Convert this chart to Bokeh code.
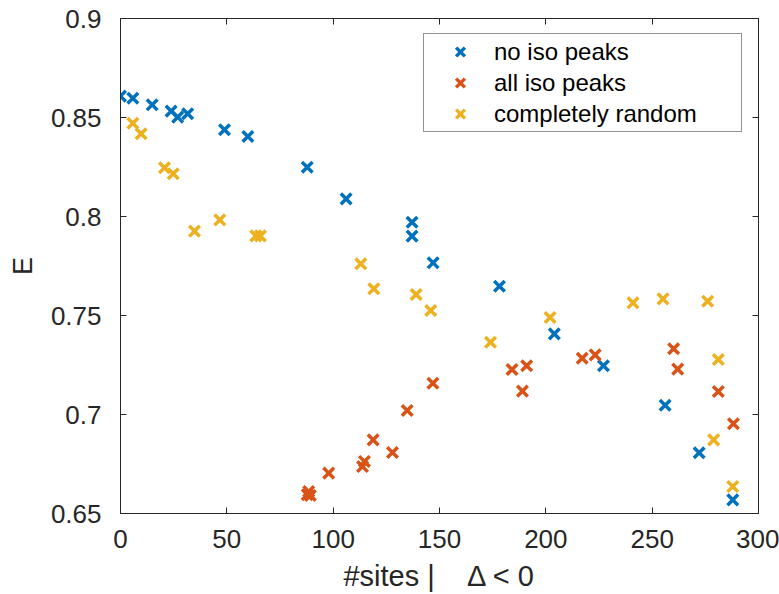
from bokeh.plotting import figure
from bokeh.models import Range1d, LinearAxis, FixedTicker, Legend, LegendItem
from bokeh.embed import file_html
from bokeh.resources import INLINE

blue_x = [0, 5.8, 14.9, 23.8, 26.9, 31.6, 48.9, 59.9, 87.8, 106.1, 137.1, 137.1, 147.0, 178.2, 204.0, 227.1, 256.1, 272.1, 287.9]
blue_y = [0.8608, 0.8597, 0.8564, 0.8532, 0.8502, 0.8519, 0.8438, 0.8404, 0.8249, 0.8089, 0.7971, 0.7901, 0.7766, 0.7648, 0.7407, 0.7246, 0.7047, 0.6807, 0.6569]

red_x = [87.8, 88.5, 89.3, 97.9, 113.8, 114.7, 118.8, 127.9, 134.8, 146.9, 184.1, 189.0, 191.0, 217.1, 223.2, 260.1, 262.0, 281.1, 288.2]
red_y = [0.6595, 0.6611, 0.6591, 0.6704, 0.6737, 0.6763, 0.6872, 0.6808, 0.7020, 0.7158, 0.7227, 0.7118, 0.7246, 0.7284, 0.7301, 0.7332, 0.7229, 0.7116, 0.6953]

yel_x = [5.8, 9.7, 20.7, 24.8, 34.8, 46.7, 63.6, 65.8, 113.0, 119.1, 139.0, 145.9, 174.0, 202.0, 241.0, 255.1, 276.1, 281.1, 278.9, 287.9]
yel_y = [0.8471, 0.8418, 0.8246, 0.8216, 0.7926, 0.7983, 0.7902, 0.7902, 0.7761, 0.7635, 0.7606, 0.7525, 0.7365, 0.7490, 0.7564, 0.7584, 0.7572, 0.7278, 0.6872, 0.6636]

labels = ["no iso peaks", "all iso peaks", "completely random"]
colors = ["#0072BD", "#D95319", "#EDB120"]
x_ticks = [0, 50, 100, 150, 200, 250, 300]
y_ticks = [0.65, 0.7, 0.75, 0.8, 0.85, 0.9]
y_tick_labels = {0.65: "0.65", 0.7: "0.7", 0.75: "0.75", 0.8: "0.8", 0.85: "0.85", 0.9: "0.9"}
x_label = "#sites |\u00a0\u00a0\u00a0\u00a0\u0394 < 0"
y_label = "E"

FONT = "Liberation Sans"
AX = "#262626"

p = figure(width=779, height=594, output_backend="svg", toolbar_location=None,
           x_range=Range1d(0, 300), y_range=Range1d(0.65, 0.9),
           min_border_left=120, min_border_right=21, min_border_top=18, min_border_bottom=80)
p.grid.visible = False
p.outline_line_color = AX
p.outline_line_width = 1
p.background_fill_color = "white"
p.border_fill_color = "white"

def style_axis(ax):
    ax.axis_line_color = AX
    ax.major_tick_line_color = AX
    ax.minor_tick_line_color = None
    ax.major_tick_in = 6
    ax.major_tick_out = 0
    ax.major_label_text_font = FONT
    ax.major_label_text_color = AX
    ax.major_label_text_font_size = "26px"

xa = p.xaxis[0]
style_axis(xa)
xa.ticker = FixedTicker(ticks=x_ticks)
xa.major_label_standoff = 16
xa.axis_label = x_label
xa.axis_label_text_font = FONT
xa.axis_label_text_font_size = "29px"
xa.axis_label_text_font_style = "normal"
xa.axis_label_text_color = AX
xa.axis_label_standoff = 9

ya = p.yaxis[0]
style_axis(ya)
ya.ticker = FixedTicker(ticks=y_ticks)
ya.major_label_overrides = y_tick_labels
ya.major_label_standoff = 19
ya.axis_label = y_label
ya.axis_label_text_font = FONT
ya.axis_label_text_font_size = "27px"
ya.axis_label_text_font_style = "normal"
ya.axis_label_text_color = AX
ya.axis_label_standoff = 10

top = LinearAxis(ticker=FixedTicker(ticks=x_ticks))
style_axis(top)
top.major_label_overrides = {t: "" for t in x_ticks}
top.major_label_standoff = 0
p.add_layout(top, "above")
right = LinearAxis(ticker=FixedTicker(ticks=y_ticks))
style_axis(right)
right.major_label_overrides = {t: "" for t in y_ticks}
right.major_label_standoff = 0
p.add_layout(right, "right")

rs = []
for xs, ys, c in [(blue_x, blue_y, colors[0]), (red_x, red_y, colors[1]), (yel_x, yel_y, colors[2])]:
    r = p.scatter(xs, ys, marker="x", size=15, line_width=3.5, line_color=c)
    rs.append(r)

legend = Legend(items=[LegendItem(label=l, renderers=[r]) for l, r in zip(labels, rs)],
                location=(303, 381), orientation="vertical")
legend.label_text_font = FONT
legend.label_text_font_size = "24px"
legend.label_text_color = "black"
legend.border_line_color = AX
legend.border_line_width = 1
legend.background_fill_color = "white"
legend.background_fill_alpha = 1
legend.padding = 2
legend.margin = 0
legend.glyph_width = 68
legend.glyph_height = 31
legend.label_height = 31
legend.spacing = 0
legend.label_standoff = 0
legend.label_width = 245
p.add_layout(legend, "center")

open("out.html", "w").write(file_html(p, INLINE))
